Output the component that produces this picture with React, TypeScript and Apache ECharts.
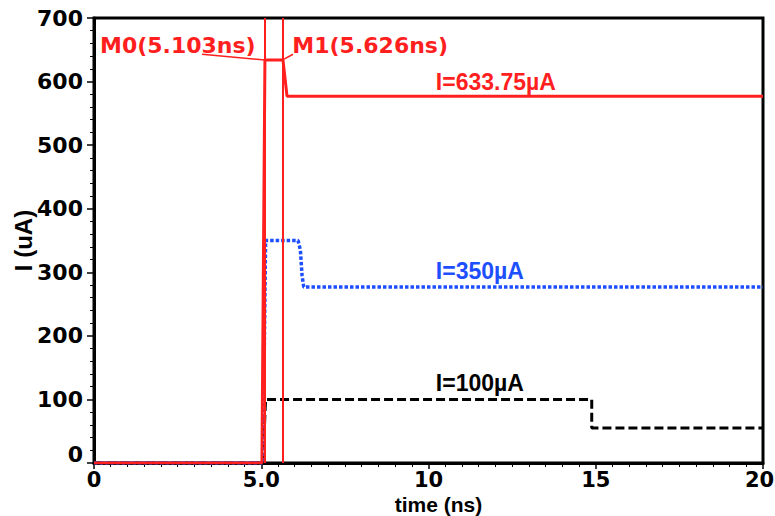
import React, { useEffect, useRef } from 'react';
import * as echarts from 'echarts';

// ---- data ----
const redTime = [0, 5.02, 5.11, 5.65, 5.77, 20];
const redCurrent = [0, 0, 633.75, 633.75, 577, 577];
const blueTime = [0, 5.05, 5.13, 6.1, 6.17, 6.22, 6.27, 20];
const blueCurrent = [0, 0, 350, 350, 335, 295, 277, 277];
const blackTime = [0, 5.05, 5.13, 14.88, 14.88, 20];
const blackCurrent = [0, 0, 100, 100, 55, 55];
const markerTimes = [5.103, 5.626];
const markerLabels = ['M0(5.103ns)', 'M1(5.626ns)'];
const markerLevel = 633.75;
const levelLabels = ['I=633.75µA', 'I=350µA', 'I=100µA'];
const xTickLabels: Record<number, string> = { 0: '0', 5: '5.0', 10: '10', 15: '15', 20: '{e|20}' };

// annotation anchors in data coordinates
const markerLabelPos = [
  [0.18, 657],
  [5.93, 657],
];
const leaderStart = [
  [3.23, 643],
  [5.95, 643],
];
const levelLabelPos = [
  [10.22, 599],
  [10.22, 302],
  [10.22, 126],
];

const RED = '#ff1f1f';
const BLUE = '#1e4fff';
const BLACK = '#000000';

const zip = (xs: number[], ys: number[]) => xs.map((x, i) => [x, ys[i]]);

export default function App() {
  const ref = useRef<HTMLDivElement>(null);
  useEffect(() => {
    if (!ref.current) return;
    const chart = echarts.init(ref.current, null, { renderer: 'svg' });
    const tickFont = { fontFamily: 'DejaVu Sans', fontWeight: 'bold' as const, fontSize: 21, color: '#000' };
    chart.setOption({
      animation: false,
      backgroundColor: '#fff',
      grid: {
        left: 94,
        right: 12,
        top: 18,
        bottom: 53,
        containLabel: false,
        outerBoundsMode: 'none',
        show: true,
        borderColor: '#000',
        borderWidth: 3,
        backgroundColor: 'transparent',
      },
      xAxis: {
        type: 'value',
        min: 0,
        max: 20,
        interval: 5,
        name: 'time (ns)',
        nameLocation: 'middle',
        nameGap: 31,
        nameMoveOverlap: false,
        nameTextStyle: {
          fontFamily: 'Liberation Sans',
          fontWeight: 'bold',
          fontSize: 21,
          lineHeight: 20,
          color: '#000',
          padding: [0, 0, 0, 20],
        },
        axisLine: { show: true, onZero: false, lineStyle: { color: '#000', width: 3 } },
        axisTick: { show: true, inside: false, length: 6, lineStyle: { color: '#000', width: 1.5 } },
        minorTick: { show: true, splitNumber: 10, length: 4, lineStyle: { color: '#000', width: 1 } },
        splitLine: { show: false },
        axisLabel: {
          ...tickFont,
          lineHeight: 16,
          margin: 9,
          formatter: (v: number) => xTickLabels[v] ?? String(v),
          rich: { e: { ...tickFont, lineHeight: 16, padding: [0, 7, 0, 0] } },
        },
      },
      yAxis: {
        type: 'value',
        min: 0,
        max: 700,
        interval: 100,
        name: 'I (uA)',
        nameLocation: 'middle',
        nameGap: 59,
        nameMoveOverlap: false,
        nameTextStyle: { fontFamily: 'Liberation Sans', fontWeight: 'bold', fontSize: 24, color: '#000' },
        axisLine: { show: true, onZero: false, lineStyle: { color: '#000', width: 3 } },
        axisTick: { show: true, inside: false, length: 7, lineStyle: { color: '#000', width: 1.5 } },
        minorTick: { show: true, splitNumber: 5, length: 4, lineStyle: { color: '#000', width: 1 } },
        splitLine: { show: false },
        axisLabel: {
          ...tickFont,
          fontSize: 22,
          margin: 11,
          formatter: (v: number) => (v === 0 ? '{z|0}' : String(v)),
          rich: { z: { ...tickFont, fontSize: 22, padding: [0, 0, 18, 0] } },
        },
      },
      series: [
        {
          type: 'line',
          data: zip(blackTime, blackCurrent),
          symbol: 'none',
          lineStyle: { color: BLACK, width: 3, type: [9, 4] },
          z: 2,
        },
        {
          type: 'line',
          data: zip(blueTime, blueCurrent),
          symbol: 'none',
          lineStyle: { color: BLUE, width: 3.5, type: [3.5, 2] },
          z: 3,
        },
        {
          type: 'line',
          data: zip(redTime, redCurrent),
          symbol: 'none',
          lineStyle: { color: RED, width: 3 },
          z: 4,
          markLine: {
            silent: true,
            symbol: 'none',
            label: { show: false },
            lineStyle: { color: RED, width: 2, type: 'solid' },
            data: markerTimes.map((t) => ({ xAxis: t })),
          },
        },
      ],
    });

    const px = (p: number[]) => chart.convertToPixel({ gridIndex: 0 }, p) as number[];
    const graphics: any[] = [];
    markerLabels.forEach((txt, i) => {
      const p = px(markerLabelPos[i]);
      graphics.push({
        type: 'text',
        x: p[0],
        y: p[1],
        z: 10,
        style: { text: txt, fill: RED, font: 'bold 22px "DejaVu Sans"', align: 'left', verticalAlign: 'middle' },
      });
      const a = px(leaderStart[i]);
      const b = px([markerTimes[i], markerLevel]);
      graphics.push({
        type: 'line',
        z: 10,
        shape: { x1: a[0], y1: a[1], x2: b[0], y2: b[1] },
        style: { stroke: RED, lineWidth: 1.5 },
      });
    });
    const levelColors = [RED, BLUE, BLACK];
    levelLabels.forEach((txt, i) => {
      const p = px(levelLabelPos[i]);
      graphics.push({
        type: 'text',
        x: p[0],
        y: p[1],
        z: 10,
        style: { text: txt, fill: levelColors[i], font: 'bold 23px "Liberation Sans"', align: 'left', verticalAlign: 'middle' },
      });
    });
    chart.setOption({ graphic: graphics });

    return () => chart.dispose();
  }, []);
  return <div ref={ref} style={{ position: 'fixed', left: 0, top: 0, width: 775, height: 516 }} />;
}
